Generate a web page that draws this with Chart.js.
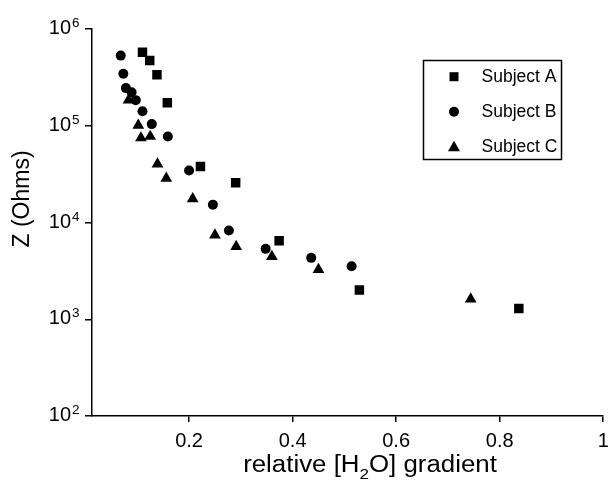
<!DOCTYPE html>
<html>
<head>
<meta charset="utf-8">
<script src="https://cdn.jsdelivr.net/npm/chart.js@4/dist/chart.umd.min.js"></script>
<style>
  html, body { margin: 0; padding: 0; background: #fff; }
  canvas { display: block; }
</style>
</head>
<body>
<canvas id="chart" width="610" height="482"></canvas>
<script>
// ── Data ──
const subjectA_x = [0.110, 0.124, 0.138, 0.158, 0.222, 0.290, 0.374, 0.529, 0.837];
const subjectA_z = [574000, 472000, 337000, 173000, 38000, 25700, 6460, 2010, 1290];

const subjectB_x = [0.068, 0.073, 0.078, 0.089, 0.097, 0.110, 0.128, 0.159, 0.200, 0.246, 0.277, 0.348, 0.436, 0.514];
const subjectB_z = [531000, 345000, 245000, 222000, 184000, 141000, 104000, 77300, 34500, 15300, 8260, 5340, 4310, 3530];

const subjectC_x = [0.083, 0.102, 0.107, 0.125, 0.139, 0.156, 0.207, 0.250, 0.291, 0.360, 0.450, 0.744];
const subjectC_z = [183700, 101200, 74800, 77500, 40200, 28600, 17570, 7430, 5640, 4440, 3260, 1615];

const seriesNames = ['Subject A', 'Subject B', 'Subject C'];
const xTicks = [0.2, 0.4, 0.6, 0.8, 1];
const xTickLabels = ['0.2', '0.4', '0.6', '0.8', '1'];
const yExponents = [2, 3, 4, 5, 6];

const FONT = "'Liberation Sans', Arial, Helvetica, sans-serif";
const INK = '#000';

const pts = (xs, ys) => xs.map((x, i) => ({ x, y: ys[i] }));

// ── Extra drawing: log tick labels, axis titles, legend box ──
const annotate = {
  id: 'annotate',
  afterDraw(chart) {
    const ctx = chart.ctx;
    const ys = chart.scales.y;
    ctx.save();
    ctx.fillStyle = INK;
    ctx.strokeStyle = INK;

    // y tick labels 10^n
    yExponents.forEach(p => {
      const py = ys.getPixelForValue(Math.pow(10, p));
      ctx.font = '20px ' + FONT;
      ctx.textAlign = 'right';
      ctx.textBaseline = 'alphabetic';
      ctx.fillText('10', 71, py + 5);
      ctx.font = '13.5px ' + FONT;
      ctx.textAlign = 'left';
      ctx.fillText(String(p), 72, py - 2);
    });

    // y title
    ctx.save();
    ctx.translate(23, 199);
    ctx.rotate(-Math.PI / 2);
    ctx.font = '23px ' + FONT;
    ctx.textAlign = 'center';
    ctx.textBaseline = 'middle';
    ctx.fillText('Z (Ohms)', 0, 0);
    ctx.restore();

    // x title with subscript (slightly stretched like the original)
    const big = '23.5px ' + FONT, small = '15.5px ' + FONT;
    const partA = 'relative [H', sub = '2', partB = 'O] gradient';
    ctx.font = big;
    const wA = ctx.measureText(partA).width, wB = ctx.measureText(partB).width;
    ctx.font = small;
    const wS = ctx.measureText(sub).width;
    const stretch = 1.1;
    ctx.save();
    ctx.translate(370 - stretch * (wA + wS + wB) / 2, 471.5);
    ctx.scale(stretch, 1);
    ctx.textAlign = 'left';
    ctx.textBaseline = 'alphabetic';
    ctx.font = big;
    ctx.fillText(partA, 0, 0);
    ctx.font = small;
    ctx.fillText(sub, wA, 7);
    ctx.font = big;
    ctx.fillText(partB, wA + wS, 0);
    ctx.restore();

    // legend
    ctx.lineWidth = 1.5;
    ctx.strokeRect(423.5, 60.5, 138, 99);
    const rows = [76.7, 111.7, 146.7];
    const mx = 454;
    ctx.fillRect(mx - 4.5, rows[0] - 4.5, 9, 9);
    ctx.beginPath();
    ctx.arc(mx, rows[1], 5, 0, Math.PI * 2);
    ctx.fill();
    ctx.beginPath();
    ctx.moveTo(mx, rows[2] - 6);
    ctx.lineTo(mx + 6, rows[2] + 4.5);
    ctx.lineTo(mx - 6, rows[2] + 4.5);
    ctx.closePath();
    ctx.fill();
    ctx.font = '17.5px ' + FONT;
    ctx.textAlign = 'left';
    ctx.textBaseline = 'middle';
    seriesNames.forEach((name, i) => ctx.fillText(name, 481.5, rows[i]));

    ctx.restore();
  }
};

const common = {
  backgroundColor: INK,
  borderColor: INK,
  pointBorderWidth: 0,
  showLine: false,
};

new Chart(document.getElementById('chart').getContext('2d'), {
  type: 'scatter',
  data: {
    datasets: [
      { ...common, label: seriesNames[0], data: pts(subjectA_x, subjectA_z), pointStyle: 'rect', pointRadius: 6.7 },
      { ...common, label: seriesNames[1], data: pts(subjectB_x, subjectB_z), pointStyle: 'circle', pointRadius: 5 },
      { ...common, label: seriesNames[2], data: pts(subjectC_x, subjectC_z), pointStyle: 'triangle', pointRadius: 6.8 },
    ]
  },
  options: {
    responsive: false,
    animation: false,
    devicePixelRatio: 1,
    layout: { padding: { top: 29, right: 6, left: 0, bottom: 0 } },
    plugins: { legend: { display: false }, tooltip: { enabled: false } },
    scales: {
      x: {
        type: 'linear',
        min: 0.0125,
        max: 1,
        afterBuildTicks: s => { s.ticks = xTicks.map(v => ({ value: v })); },
        afterFit: s => { s.height = 66; s.paddingLeft = 0; s.paddingRight = 0; },
        grid: { drawOnChartArea: false, drawTicks: true, tickLength: 6, color: INK, lineWidth: 1.5 },
        border: { color: INK, width: 1.5 },
        ticks: {
          color: INK,
          font: { family: FONT, size: 20 },
          padding: 7,
          maxRotation: 0,
          callback: v => xTickLabels[xTicks.indexOf(v)] ?? ''
        }
      },
      y: {
        type: 'logarithmic',
        min: 100,
        max: 1e6,
        afterBuildTicks: s => { s.ticks = yExponents.map(p => ({ value: Math.pow(10, p) })); },
        afterFit: s => { s.width = 92; s.paddingTop = 0; s.paddingBottom = 0; },
        grid: { drawOnChartArea: false, drawTicks: true, tickLength: 7, color: INK, lineWidth: 1.5 },
        border: { color: INK, width: 1.5 },
        ticks: { callback: () => '', padding: 0 }
      }
    }
  },
  plugins: [annotate]
});
</script>
</body>
</html>
